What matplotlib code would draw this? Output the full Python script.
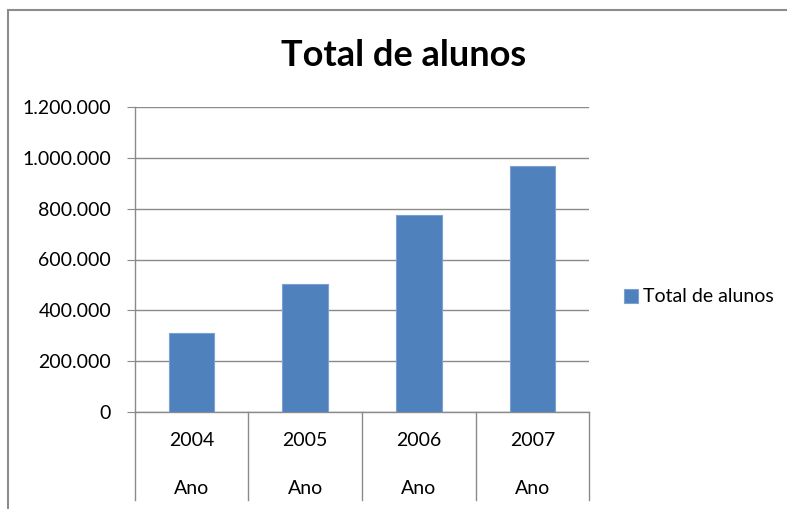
import matplotlib
matplotlib.use("Agg")
import matplotlib.pyplot as plt
import matplotlib.transforms as mtransforms
from matplotlib.patches import Rectangle
from matplotlib.ticker import FuncFormatter

years = ["2004", "2005", "2006", "2007"]
group_label = "Ano"
values = [309000, 504000, 777000, 970000]
series_name = "Total de alunos"
title = "Total de alunos"
yticks = [0, 200000, 400000, 600000, 800000, 1000000, 1200000]

plt.rcParams['font.family'] = ['Lato', 'DejaVu Sans']

W, H = 787, 509
fig = plt.figure(figsize=(W / 100, H / 100), dpi=100)

# chart frame (cut off at right/bottom in reference)
fig.patches.append(Rectangle((7.5 / W, -0.1), 1.2, (H - 10) / H + 0.1,
                             transform=fig.transFigure, fill=False,
                             edgecolor='#8c8c8c', linewidth=1.5, zorder=0))

ax = fig.add_axes([134.7 / W, (H - 411.7) / H, 454.6 / W, 304.4 / H])
x = list(range(len(years)))
bars = ax.bar(x, values, width=0.4, color='#4F81BD', edgecolor='#7aa0d4', linewidth=0.8, zorder=3)
ax.set_xlim(-0.5, len(years) - 0.5)
ax.set_ylim(0, 1200000)
ax.set_yticks(yticks)
ax.yaxis.set_major_formatter(FuncFormatter(lambda v, p: f"{int(v):,}".replace(",", ".")))
ax.grid(axis='y', color='#8a8a8a', linewidth=1.0, zorder=0)
ax.set_xticks([])
for s in ['top', 'right']:
    ax.spines[s].set_visible(False)
for s in ['left', 'bottom']:
    ax.spines[s].set_color('#8a8a8a')
    ax.spines[s].set_linewidth(1.0)
ax.tick_params(axis='y', length=6, color='#8a8a8a', pad=11, labelsize=14, labelcolor='black')

trans = mtransforms.blended_transform_factory(ax.transData, ax.transAxes)
for b in [i - 0.5 for i in range(len(years) + 1)]:
    ax.plot([b, b], [0, -0.29], transform=trans, color='#8a8a8a', linewidth=1.0, clip_on=False)
for i, yr in enumerate(years):
    ax.text(i, -0.093, yr, transform=trans, ha='center', va='center', fontsize=14)
    ax.text(i, -0.251, group_label, transform=trans, ha='center', va='center', fontsize=14)

fig.text(404 / W, 1 - 55 / H, title, ha='center', va='center', fontsize=26, fontweight='bold')

leg = ax.legend([bars], [series_name], loc='center left', bbox_to_anchor=(624 / W, 1 - 297 / H),
                bbox_transform=fig.transFigure, frameon=False, fontsize=14,
                handlelength=0.7, handleheight=0.7, handletextpad=0.3, borderpad=0, borderaxespad=0)

fig.savefig("out.png", dpi=100)
